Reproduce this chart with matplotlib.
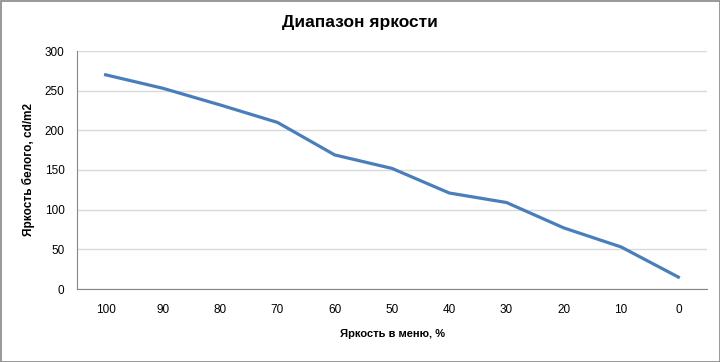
import matplotlib
matplotlib.use("Agg")
import matplotlib.pyplot as plt
from matplotlib.patches import Rectangle

categories = ["100", "90", "80", "70", "60", "50", "40", "30", "20", "10", "0"]
values = [270, 253, 232, 210, 169, 152, 121, 109, 77, 53, 15]
yticks = [0, 50, 100, 150, 200, 250, 300]

title = "Диапазон яркости"
xlabel = "Яркость в меню, %"
ylabel = "Яркость белого, cd/m2"

plt.rcParams['font.family'] = ['Liberation Sans', 'DejaVu Sans']

fig = plt.figure(figsize=(7.2, 3.62), dpi=100)
ax = fig.add_axes([77/720, 1-289/362, (707-77)/720, (289-51)/362])

x = list(range(len(categories)))
ax.plot(x, values, color="#4a7ebb", linewidth=2.3, solid_joinstyle="round")

ax.set_xlim(-0.5, len(categories)-0.5)
ax.set_ylim(0, 300)
ax.set_yticks(yticks)
ax.set_xticks(x)
ax.set_xticklabels(categories)
ax.grid(axis="y", color="#d9d9d9", linewidth=1)
ax.set_axisbelow(True)
for s in ["top", "right"]:
    ax.spines[s].set_visible(False)
ax.spines["left"].set_color("#868686")
ax.spines["bottom"].set_color("#868686")
ax.tick_params(axis="both", length=0, labelsize=8.5, colors="black")
ax.tick_params(axis="x", pad=11)
ax.tick_params(axis="y", pad=9)

ax.set_xlabel(xlabel, fontsize=8, fontweight="bold", labelpad=9)
ax.set_ylabel(ylabel, fontsize=8.5, fontweight="bold", labelpad=7)
fig.text(0.5, 1-22/362, title, ha="center", va="center", fontsize=12.5, fontweight="bold")

fig.patches.append(Rectangle((0.5/720, 0.5/362), 1-1/720, 1-1/362, transform=fig.transFigure,
                             fill=False, edgecolor="#868686", linewidth=1.2))

fig.savefig("out.png", dpi=100)
